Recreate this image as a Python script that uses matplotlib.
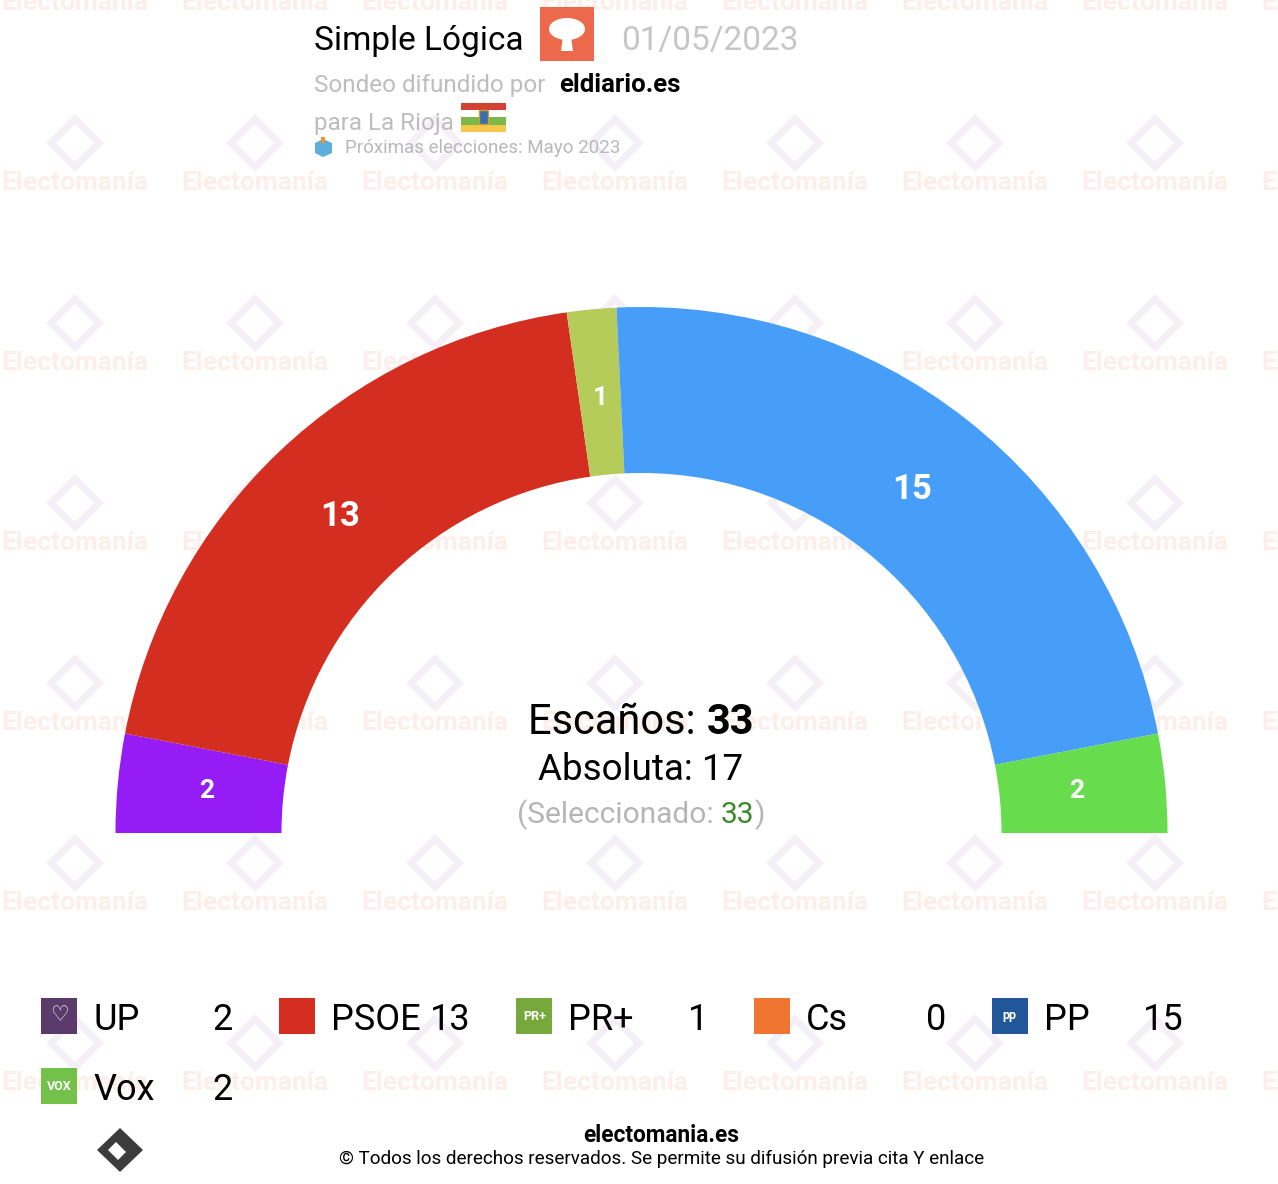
import matplotlib
matplotlib.use("Agg")
import numpy as np
import matplotlib.pyplot as plt
from matplotlib.patches import Wedge, Rectangle, Polygon, Ellipse

plt.rcParams["font.family"] = ["Roboto", "DejaVu Sans"]

W, H = 1278, 1184

parties = ["UP", "PSOE", "PR+", "Cs", "PP", "Vox"]
seats = [2, 13, 1, 0, 15, 2]
arc_colors = ["#961cf6", "#d42e20", "#b5cc5b", "#f07b33", "#479ef8", "#67dc4c"]
logo_colors = ["#5b3a6c", "#d52d20", "#77a83b", "#ef7530", "#22569a", "#72c14a"]
logo_text = ["♡", "", "PR+", "", "pp", "VOX"]

pollster = "Simple Lógica"
poll_date = "01/05/2023"
media = "eldiario.es"
region = "La Rioja"
next_election = "Próximas elecciones: Mayo 2023"
majority = 17

total = sum(seats)

fig = plt.figure(figsize=(W / 100, H / 100), dpi=100)
ax = fig.add_axes([0, 0, 1, 1])
ax.set_xlim(0, W)
ax.set_ylim(H, 0)
ax.axis("off")

# watermark grid
for wx in range(75, W + 100, 180):
    for wy in range(3, H + 100, 180):
        ax.text(wx, wy, "Electomanía", ha="center", va="center", fontsize=19,
                fontweight="bold", color="#fdeeea", zorder=0)
        d = 24
        ax.add_patch(Polygon([[wx, wy - 40 - d], [wx + d, wy - 40], [wx, wy - 40 + d], [wx - d, wy - 40]],
                             closed=True, fill=False, ec="#f5eff7", lw=5, zorder=0))

# hemicycle
cx, cy = 641.5, 833
r_out, r_in = 526, 360
r_lab = 437
cum = 0
for name, s, col in zip(parties, seats, arc_colors):
    if s == 0:
        continue
    a1 = 180 - cum / total * 180
    a2 = 180 - (cum + s) / total * 180
    ax.add_patch(Wedge((cx, cy), r_out, -a1, -a2, width=r_out - r_in, fc=col, ec="none", zorder=2))
    mid = np.radians((a1 + a2) / 2)
    ax.text(cx + r_lab * np.cos(mid), cy - r_lab * np.sin(mid), str(s), ha="center", va="center",
            color="white", fontweight="bold", fontsize=25 if s >= 10 else 19, zorder=3)
    cum += s

renderer = fig.canvas.get_renderer()


def pieces(x, y, parts):
    # draws several text pieces one after the other on one baseline, centred on x
    objs = []
    for txt, kw in parts:
        objs.append(ax.text(0, y, txt, va="baseline", ha="left", zorder=4, **kw))
    widths = [o.get_window_extent(renderer).width for o in objs]
    start = x - sum(widths) / 2
    for o, w in zip(objs, widths):
        o.set_x(start)
        start += w


pieces(641, 734, [("Escaños: ", dict(fontsize=30, color="black")),
                  (str(total), dict(fontsize=30, color="black", fontweight="bold"))])
ax.text(641, 780, f"Absoluta: {majority}", ha="center", va="baseline", fontsize=26.5, zorder=4)
pieces(641, 823, [("(Seleccionado: ", dict(fontsize=21.5, color="#b5b5b5")),
                  (str(total), dict(fontsize=21.5, color="#3a8a2a")),
                  (")", dict(fontsize=21.5, color="#b5b5b5"))])

# header
ax.text(314, 50, pollster, fontsize=24, va="baseline", color="black", zorder=4)
ax.add_patch(Rectangle((540, 7), 54, 54, fc="#ec6a4b", ec="none", zorder=4))
ax.add_patch(Ellipse((567, 29), 36, 22, fc="white", ec="none", zorder=5))
ax.add_patch(Polygon([[563, 36], [571, 36], [573, 51], [561, 51]], fc="white", ec="none", zorder=5))
ax.text(621, 50, poll_date, fontsize=24, va="baseline", color="#c6c6c6", zorder=4)
ax.text(314, 92, "Sondeo difundido por", fontsize=17.5, va="baseline", color="#bdbdbd", zorder=4)
ax.text(559, 92, media, fontsize=18.5, va="baseline", color="black", fontweight="bold", zorder=4)
ax.text(314, 130, f"para {region}", fontsize=17.5, va="baseline", color="#bdbdbd", zorder=4)
for y0, hh, c in [(103, 7, "#d24134"), (110, 7, "white"), (117, 8, "#7bb749"), (125, 7, "#f4c84c")]:
    ax.add_patch(Rectangle((461, y0), 45, hh, fc=c, ec="none", zorder=4))
ax.add_patch(Rectangle((479, 110), 9, 14, fc="#3b6bb0", ec="#c8a030", lw=1, zorder=5))
ax.add_patch(Polygon([[315, 143], [323, 139], [332, 143], [332, 153], [323, 157], [315, 153]],
                     fc="#5bb0db", ec="none", zorder=4))
ax.add_patch(Rectangle((321, 137), 4, 6, fc="#f0922e", ec="none", zorder=5))
ax.text(345, 153, next_election, fontsize=13.5, va="baseline", color="#b8b8b8", zorder=4)

# legend
for i, (name, s) in enumerate(zip(parties, seats)):
    row, col = divmod(i, 5)
    x0 = 41 + col * 237.7
    y0 = 998 + row * 70
    ax.add_patch(Rectangle((x0, y0), 36, 36, fc=logo_colors[i], ec="none", zorder=4))
    if logo_text[i]:
        ax.text(x0 + 18, y0 + 18, logo_text[i], ha="center", va="center", color="white",
                fontsize=15 if logo_text[i] == "♡" else 9, fontweight="bold", zorder=5)
    ax.text(x0 + 52, y0 + 32, name, fontsize=26, va="baseline", color="black", zorder=4)
    ax.text(x0 + 192, y0 + 32, str(s), fontsize=26, va="baseline", ha="right", color="black", zorder=4)

# footer
ax.text(661.5, 1142, "electomania.es", ha="center", va="baseline", fontsize=16.3, fontweight="bold", zorder=4)
ax.text(661.5, 1164, "© Todos los derechos reservados. Se permite su difusión previa cita Y enlace",
        ha="center", va="baseline", fontsize=13.6, zorder=4)
ax.add_patch(Polygon([[120, 1128], [143, 1150], [120, 1172], [97, 1150]], fc="#3c3c3c", ec="none", zorder=4))
ax.add_patch(Polygon([[116, 1142], [126, 1152], [118, 1160], [108, 1150]], fc="white", ec="none", zorder=5))

fig.savefig("out.png", dpi=100)
